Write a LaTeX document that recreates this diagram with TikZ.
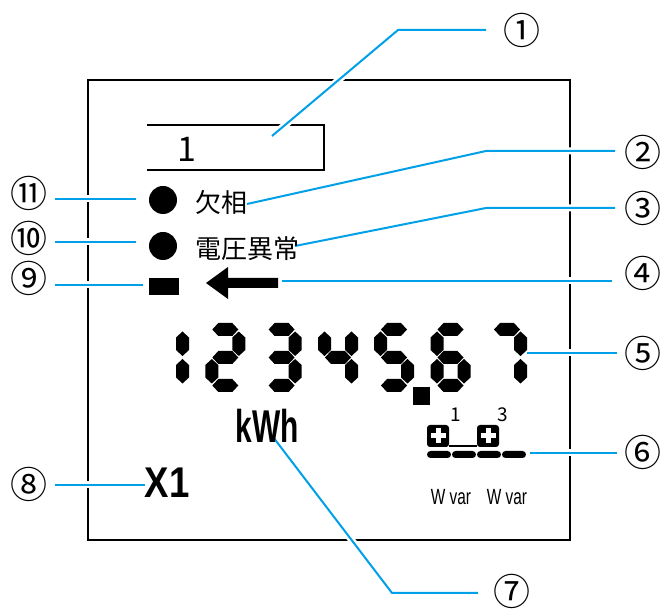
\documentclass[tikz,border=0pt]{standalone}
\usepackage{fontspec}
\usepackage{graphicx}
\setmainfont{Liberation Sans}
\newfontfamily\jp{Noto Sans CJK JP}
\definecolor{leadblue}{RGB}{0,160,233}
\newcommand\hsg[2]{\fill ({#1+7},{#2}) -- ({#1+13},{#2-6.5}) -- ({#1+27},{#2-6.5}) -- ({#1+33},{#2}) -- ({#1+27},{#2+6.5}) -- ({#1+13},{#2+6.5}) -- cycle;}
\newcommand\vsg[3]{\fill ({#1+6.5},{#2}) -- ({#1+13},{#2+6}) -- ({#1+13},{#3-6}) -- ({#1+6.5},{#3}) -- ({#1},{#3-6}) -- ({#1},{#2+6}) -- cycle;}
\newcommand\sgA[1]{\hsg{#1}{329.5}}
\newcommand\sgG[1]{\hsg{#1}{357.5}}
\newcommand\sgD[1]{\hsg{#1}{385.5}}
\newcommand\sgF[1]{\vsg{#1}{331.5}{356}}
\newcommand\sgE[1]{\vsg{#1}{359}{383.5}}
\newcommand\sgB[1]{\vsg{#1+27}{331.5}{356}}
\newcommand\sgC[1]{\vsg{#1+27}{359}{383.5}}
\tikzset{
  leader/.style={draw=leadblue, line width=2pt, line join=round, preaction={draw=white, line width=7pt}},
  frame/.style={draw=black, line width=2pt},
  num/.style={font=\jp\fontsize{37}{37}\selectfont, inner sep=0pt},
  jptext/.style={font=\jp\fontsize{26}{26}\selectfont, inner sep=0pt, anchor=west},
  smalltxt/.style={font=\fontsize{22}{22}\selectfont, inner sep=0pt},
  supnum/.style={font=\jp\fontsize{19}{19}\selectfont, inner sep=0pt},
}
\begin{document}
\begin{tikzpicture}[x=1pt,y=-1pt]
\useasboundingbox (0,0) rectangle (662,609);
% outer display frame
\draw[frame] (88,80) rectangle (570,540);
% box 1 (open at left)
\draw[black, line width=2.5pt] (147,125) -- (324,125) -- (324,170) -- (147,170);

% leader anchor coordinates
\coordinate (p1) at (272,136);
\coordinate (k1) at (398,30);
\coordinate (e1) at (486,30);
\coordinate (p2) at (247,204);
\coordinate (k2) at (486,151);
\coordinate (e2) at (615,151);
\coordinate (p3) at (295,246);
\coordinate (k3) at (486,208);
\coordinate (e3) at (615,208);
\coordinate (p4) at (282,281);
\coordinate (e4) at (612,281);
\coordinate (p5) at (527,353);
\coordinate (e5) at (617,353);
\coordinate (p6) at (530,453);
\coordinate (e6) at (617,453);
\coordinate (p7) at (270,433);
\coordinate (k7) at (392,593);
\coordinate (e7) at (478,593);
\coordinate (p8) at (145,485);
\coordinate (e8) at (55,485);
\coordinate (p9) at (143,285);
\coordinate (e9) at (55,285);
\coordinate (p10) at (136,242);
\coordinate (e10) at (55,242);
\coordinate (p11) at (136,199);
\coordinate (e11) at (55,199);

% leaders
\draw[leader] (p1) -- (k1) -- (e1);
\draw[leader] (p2) -- (k2) -- (e2);
\draw[leader] (p3) -- (k3) -- (e3);
\draw[leader] (p4) -- (e4);
\draw[leader] (p5) -- (e5);
\draw[leader] (p6) -- (e6);
\draw[leader] (p7) -- (k7) -- (e7);
\draw[leader] (p8) -- (e8);
\draw[leader] (p9) -- (e9);
\draw[leader] (p10) -- (e10);
\draw[leader] (p11) -- (e11);

% callout numbers
\node[num] (n1) at (522,30) {①};
\node[num] (n2) at (643,152) {②};
\node[num] (n3) at (643,208) {③};
\node[num] (n4) at (643,273) {④};
\node[num] (n5) at (643,353) {⑤};
\node[num] (n6) at (643,452) {⑥};
\node[num] (n7) at (512,591) {⑦};
\node[num] (n8) at (29,484) {⑧};
\node[num] (n9) at (29,278) {⑨};
\node[num] (n10) at (29,238) {⑩};
\node[num] (n11) at (29,193) {⑪};

% box 1 content
\node[font=\jp\fontsize{34}{34}\selectfont, inner sep=0pt] (boxnum) at (187,149) {1};

% indicators
\fill (163,200) circle (14);
\fill (163,246) circle (14);
\node[jptext] (t1) at (195,202) {欠相};
\node[jptext] (t2) at (195,249) {電圧異常};
\fill (149,278) rectangle (179,295);
\fill (206,283) -- (228,267) -- (228,278) -- (278,278) -- (278,288) -- (228,288) -- (228,299) -- cycle;

% seven-segment digits
% 1
\sgB{149}\sgC{149}
% 2
\sgA{205.3}\sgB{205.3}\sgG{205.3}\sgE{205.3}\sgD{205.3}
% 3
\sgA{261.6}\sgB{261.6}\sgG{261.6}\sgC{261.6}\sgD{261.6}
% 4
\sgF{318}\sgB{318}\sgG{318}\sgC{318}
% 5
\sgA{374}\sgF{374}\sgG{374}\sgC{374}\sgD{374}
% 6
\sgA{430.5}\sgF{430.5}\sgG{430.5}\sgE{430.5}\sgC{430.5}\sgD{430.5}
% 7
\sgA{487}\sgB{487}\sgC{487}
% decimal point
\fill (413,387) rectangle (430,405);

% kWh
\node[inner sep=0pt] (kwh) at (267,426) {\scalebox{0.65}[1]{\bfseries\fontsize{46}{46}\selectfont kWh}};
% X1
\node[inner sep=0pt] (x1) at (167,483) {\scalebox{0.85}[1]{\bfseries\fontsize{43}{43}\selectfont X1}};

% element icons
\node[supnum] (s1) at (456,415) {1};
\node[supnum] (s3) at (503,415) {3};
\fill[rounded corners=3pt] (427,425) rectangle (449,447);
\fill[rounded corners=3pt] (477,425) rectangle (499,447);
\fill[white] (430.5,433.5) rectangle (445.5,438.5);
\fill[white] (435.5,428.5) rectangle (440.5,443.5);
\fill[white] (480.5,433.5) rectangle (495.5,438.5);
\fill[white] (485.5,428.5) rectangle (490.5,443.5);
\draw[line width=2pt] (449,446) -- (477,446);
\fill[rounded corners=3.5pt] (427,451) rectangle (451,458);
\fill[rounded corners=3.5pt] (452,451) rectangle (476,458);
\fill[rounded corners=3.5pt] (477,451) rectangle (501,458);
\fill[rounded corners=3.5pt] (502,451) rectangle (526,458);
\node[smalltxt] (wv1) at (451,497) {\scalebox{0.7}[1]{W var}};
\node[smalltxt] (wv2) at (507,497) {\scalebox{0.7}[1]{W var}};
\end{tikzpicture}
\end{document}
